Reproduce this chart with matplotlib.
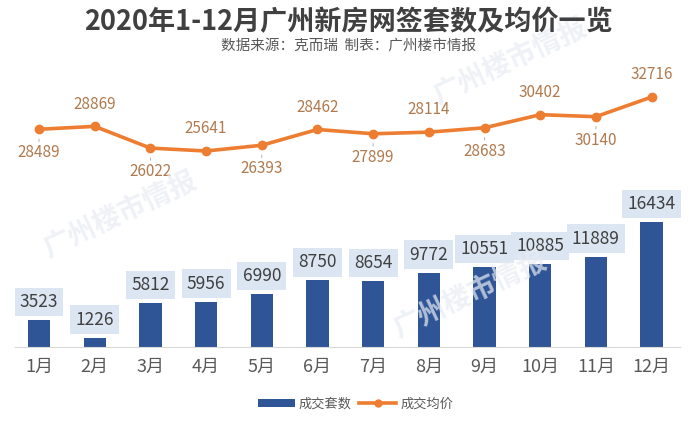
import numpy as np
import matplotlib.pyplot as plt
from matplotlib.lines import Line2D
from matplotlib.patches import Patch

plt.rcParams['font.family'] = ['Noto Sans CJK SC', 'DejaVu Sans']

# data
months = ['1月', '2月', '3月', '4月', '5月', '6月', '7月', '8月', '9月', '10月', '11月', '12月']
units = [3523, 1226, 5812, 5956, 6990, 8750, 8654, 9772, 10551, 10885, 11889, 16434]
prices = [28489, 28869, 26022, 25641, 26393, 28462, 27899, 28114, 28683, 30402, 30140, 32716]
price_above = [False, True, False, True, False, True, False, True, False, True, False, True]

bar_color = '#2F5597'
line_color = '#ED7D31'
text_gray = '#595959'

W, H = 697, 424
fig = plt.figure(figsize=(W / 100, H / 100), dpi=100)
fig.patch.set_facecolor('white')

# axes placed in pixel terms
left, right, bottom_px, top_px = 15, 680, 347, 60
ax = fig.add_axes([left / W, 1 - bottom_px / H, (right - left) / W, (bottom_px - top_px) / H])
x = np.arange(len(months))
ax.bar(x, units, width=0.4, color=bar_color, zorder=2)
ax.set_xlim(-0.431, 11.51)
ax.set_ylim(0, 37760)
for s in ['top', 'right', 'left']:
    ax.spines[s].set_visible(False)
ax.spines['bottom'].set_color('#D9D9D9')
ax.set_yticks([])
ax.set_xticks(x)
ax.set_xticklabels(months, fontsize=13, color=text_gray)
ax.tick_params(axis='x', length=0, pad=8)

for xi, v in zip(x, units):
    ax.annotate(str(v), (xi, v), xytext=(0, 13), textcoords='offset points',
                ha='center', va='center', fontsize=12.5, color='#404040',
                bbox=dict(boxstyle='square,pad=0.3', fc='#DCE6F2', ec='none'), zorder=3)

ax2 = ax.twinx()
ax2.set_ylim(-47, 37568)
ax2.axis('off')
ax2.plot(x, prices, color=line_color, lw=2.6, marker='o', ms=6, zorder=3)
for xi, v, up in zip(x, prices, price_above):
    if up:
        ax2.annotate(str(v), (xi, v), xytext=(0, 16), textcoords='offset points',
                     ha='center', va='center', fontsize=11, color='#B07A4E')
    else:
        ax2.annotate(str(v), (xi, v), xytext=(0, -17), textcoords='offset points',
                     ha='center', va='center', fontsize=11, color='#B07A4E',
                     arrowprops=dict(arrowstyle='-', color='#A6A6A6', lw=0.6,
                                     shrinkA=0, shrinkB=7))

# title and source
fig.text(0.5, 1 - 22 / H, '2020年1-12月广州新房网签套数及均价一览', ha='center', va='center',
         fontsize=19.5, fontweight='bold', color='#404040')
fig.text(0.5, 1 - 46 / H, '数据来源：克而瑞  制表：广州楼市情报', ha='center', va='center',
         fontsize=10.5, color=text_gray)

# faint watermarks
for wx, wy in [(510, 62), (120, 215), (470, 295)]:
    fig.text(wx / W, 1 - wy / H, '广州楼市情报', ha='center', va='center', fontsize=20,
             fontweight='bold', color='#E8ECF2', rotation=25, alpha=0.7, zorder=0)

handles = [Patch(facecolor=bar_color, edgecolor='none'),
           Line2D([0], [0], color=line_color, lw=2.6, marker='o', ms=5)]
fig.legend(handles, ['成交套数', '成交均价'], loc='center', bbox_to_anchor=(0.51, 1 - 404 / H),
           ncol=2, frameon=False, fontsize=9.5, handlelength=2.8, handleheight=0.6,
           columnspacing=0.6, handletextpad=0.3, labelcolor=text_gray)

fig.savefig('out.png', dpi=100)
